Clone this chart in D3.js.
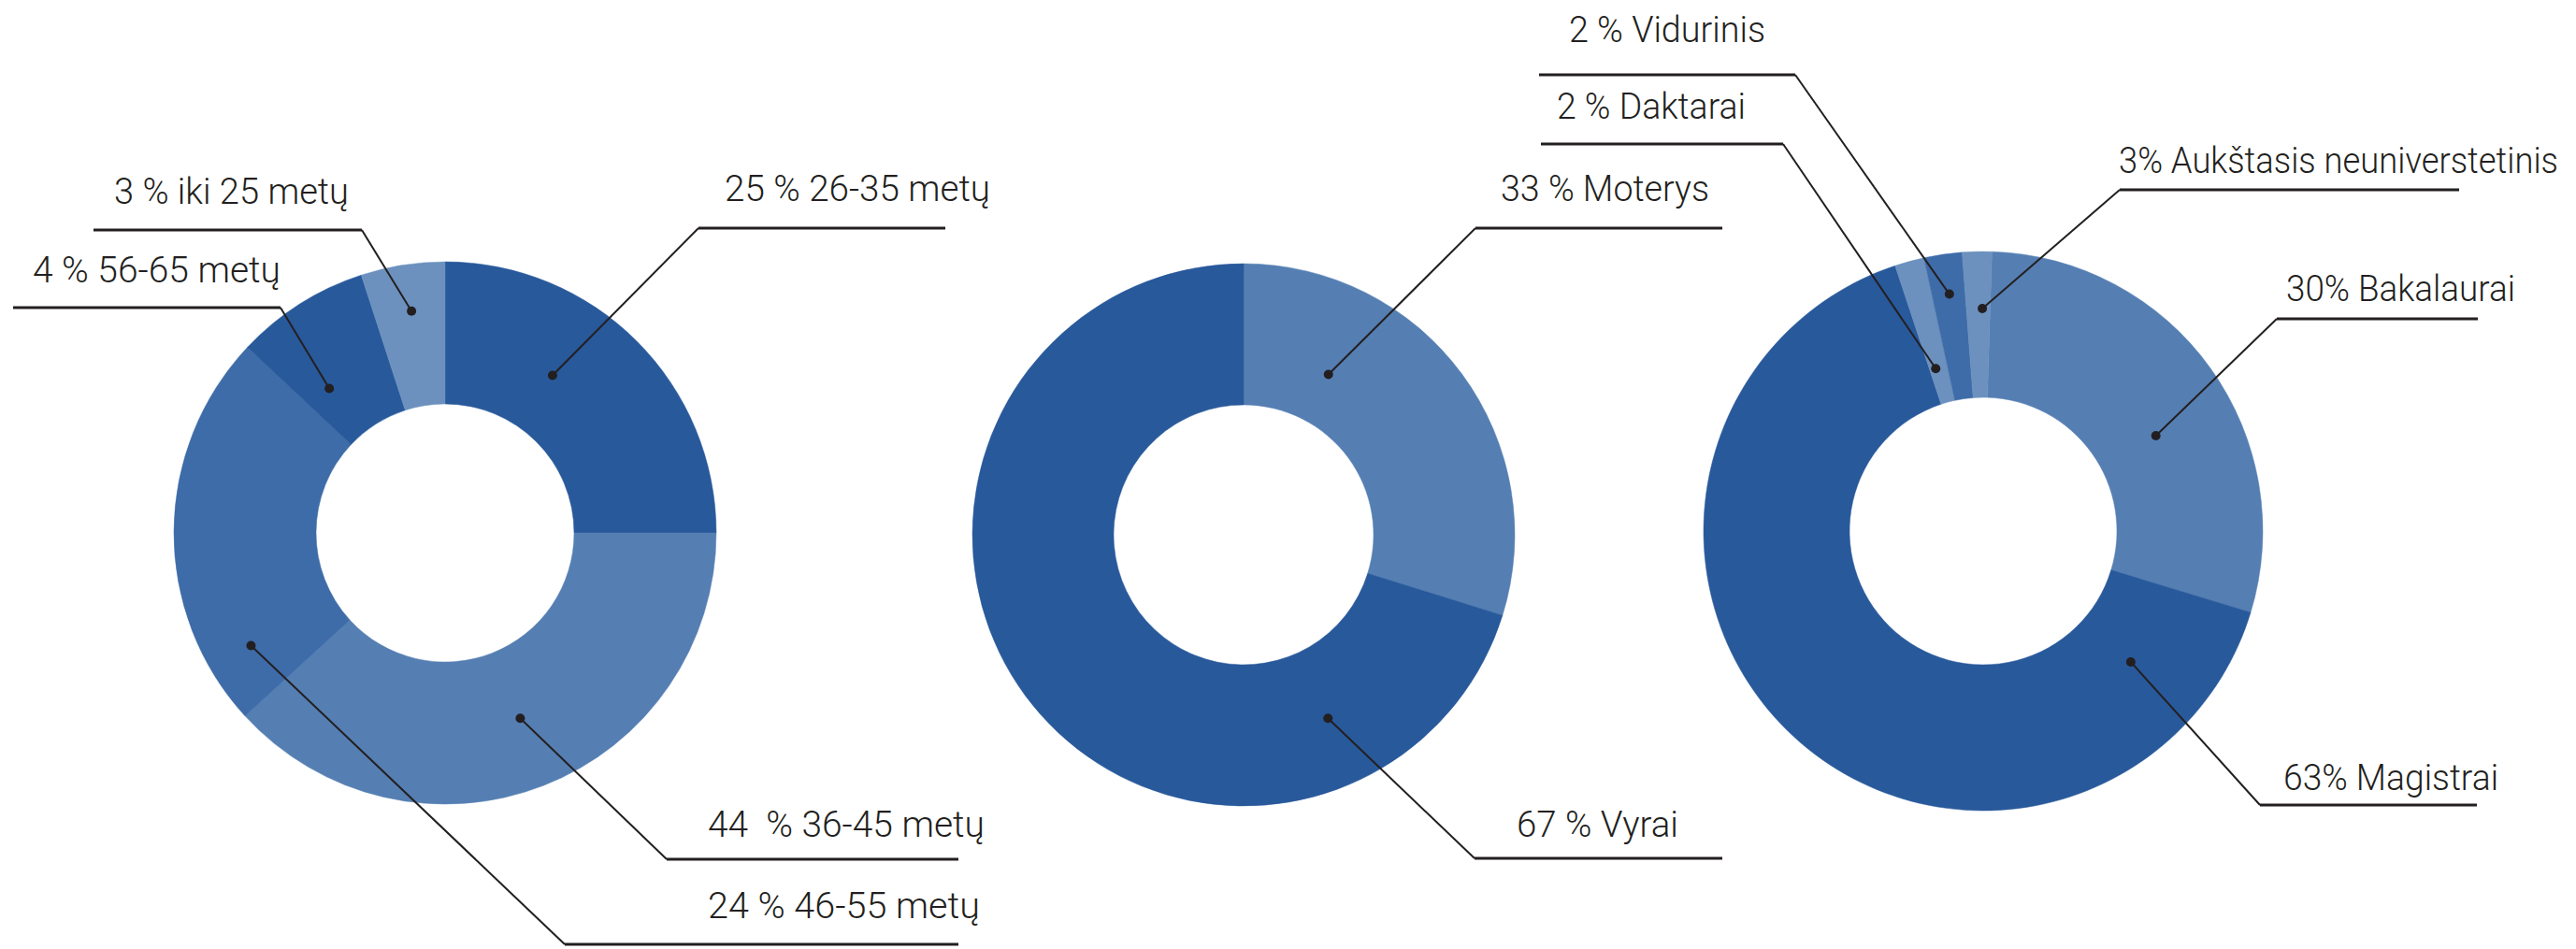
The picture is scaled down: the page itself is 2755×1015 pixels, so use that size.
<!DOCTYPE html>
<html>
<head>
<meta charset="utf-8">
<script src="https://cdnjs.cloudflare.com/ajax/libs/d3/7.8.5/d3.min.js"></script>
<style>
body { margin: 0; background: #fff; }
text { font-family: Roboto, "Open Sans", sans-serif; font-weight: 300; font-size: 38px; fill: #231f20; white-space: pre; }
</style>
</head>
<body>
<div id="chart"></div>
<script>
// age groups - slice shares as they are drawn, label text as printed
var ageLabels = ["25 % 26-35 metų", "44  % 36-45 metų", "24 % 46-55 metų", "4 % 56-65 metų", "3 % iki 25 metų"];
var ageValues = [25, 38.2, 23.8, 8, 5];

// gender
var genderLabels = ["33 % Moterys", "67 % Vyrai"];
var genderValues = [29.8, 70.2];

// education
var eduLabels = ["30% Bakalaurai", "63% Magistrai", "2 % Daktarai", "2 % Vidurinis", "3% Aukštasis neuniverstetinis"];
var eduValues = [29.2, 65.2, 1.7, 2.2, 1.7];

var width = 2755, height = 1015;

var dark = "#28599b", light = "#557fb3", mid = "#3e6ca8", pale = "#6c91be";

// layout for each donut + where its callouts go
// (t = how far along the slice the dot sits, w = printed width of the label)
var charts = [
    { labels: ageLabels, values: ageValues, cx: 476, cy: 570, r0: 138, r1: 290, start: 0,
      colors: [dark, light, mid, dark, pale],
      notes: [
        { t: 0.381, r: 204, tx: 775, ty: 215, w: 284, ex: 747, ey: 244, lx: 1011 },
        { t: 0.494, r: 214, tx: 757, ty: 895, w: 296, ex: 713, ey: 919, lx: 1025 },
        { t: 0.144, r: 240, tx: 757, ty: 982, w: 291, ex: 604, ey: 1010, lx: 1025 },
        { t: 0.281, r: 198, tx: 35, ty: 302, w: 265, ex: 300, ey: 329, lx: 14 },
        { t: 0.522, r: 240, tx: 122, ty: 218, w: 251, ex: 387, ey: 246, lx: 100 }
      ] },
    { labels: genderLabels, values: genderValues, cx: 1330, cy: 572, r0: 139, r1: 290, start: 0,
      colors: [light, dark],
      notes: [
        { t: 0.26, r: 194, tx: 1605, ty: 215, w: 223, ex: 1578, ey: 244, lx: 1842 },
        { t: 0.19, r: 216, tx: 1622, ty: 895, w: 173, ex: 1577, ey: 918, lx: 1842 }
      ] },
    { labels: eduLabels, values: eduValues, cx: 2121, cy: 568, r0: 143, r1: 299, start: 1.8 * Math.PI / 180,
      colors: [light, dark, pale, mid, pale],
      notes: [
        { t: 0.564, r: 211, tx: 2445, ty: 322, w: 245, ex: 2435, ey: 341, lx: 2650 },
        { t: 0.105, r: 211, tx: 2442, ty: 845, w: 230, ex: 2417, ey: 861, lx: 2649 },
        { t: 0.34, r: 181, tx: 1665, ty: 127, w: 202, ex: 1907, ey: 154, lx: 1648 },
        { t: 0.52, r: 256, tx: 1678, ty: 45, w: 210, ex: 1920, ey: 80, lx: 1646 },
        { t: 0.67, r: 238, tx: 2266, ty: 185, w: 470, ex: 2267, ey: 203, lx: 2630 }
      ] }
];

var svg = d3.select("#chart")
    .append("svg")
    .attr("width", width)
    .attr("height", height);

charts.forEach(function(c) {
    var pie = d3.pie()
        .sort(null)
        .value(function(d) { return d; })
        .startAngle(c.start)
        .endAngle(c.start + 2 * Math.PI);

    var arc = d3.arc()
        .innerRadius(c.r0)
        .outerRadius(c.r1);

    var slices = pie(c.values);

    var g = svg.append("g")
        .attr("transform", "translate(" + c.cx + "," + c.cy + ")");

    g.selectAll("path.slice")
        .data(slices)
        .enter().append("path")
        .attr("class", "slice")
        .attr("d", arc)
        .attr("fill", function(d, i) { return c.colors[i]; })
        .attr("stroke", function(d, i) { return c.colors[i]; })
        .attr("stroke-width", 0.5);

    // callouts: dot inside the slice, diagonal to the elbow, then the flat line under the text
    slices.forEach(function(s, i) {
        var n = c.notes[i];
        var a = s.startAngle + n.t * (s.endAngle - s.startAngle);
        var p = d3.arc().innerRadius(n.r).outerRadius(n.r).startAngle(a).endAngle(a).centroid();
        var dx = c.cx + p[0], dy = c.cy + p[1];

        svg.append("line")
            .attr("x1", dx).attr("y1", dy)
            .attr("x2", n.ex).attr("y2", n.ey)
            .attr("stroke", "#231f20")
            .attr("stroke-width", 2);

        svg.append("line")
            .attr("x1", n.ex).attr("y1", n.ey)
            .attr("x2", n.lx).attr("y2", n.ey)
            .attr("stroke", "#231f20")
            .attr("stroke-width", 3);

        svg.append("circle")
            .attr("cx", dx).attr("cy", dy)
            .attr("r", 5)
            .attr("fill", "#231f20");

        svg.append("text")
            .attr("x", n.tx)
            .attr("y", n.ty)
            .attr("textLength", n.w)
            .attr("lengthAdjust", "spacingAndGlyphs")
            .text(c.labels[i]);
    });
});
</script>
</body>
</html>
